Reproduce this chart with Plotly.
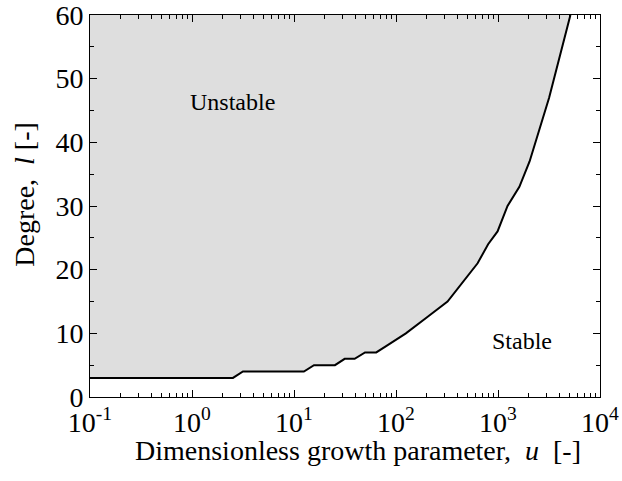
import plotly.graph_objects as go

# boundary between stable and unstable regions
u_vals = [0.1, 2.52, 3.16, 12.5, 15.7, 25.2, 31.4, 39.3, 49.7, 64, 80, 100, 125, 200, 320, 631, 800, 990, 1240, 1620, 2040, 3170, 5130]
l_vals = [3, 3, 4, 4, 5, 5, 6, 6, 7, 7, 8, 9, 10, 12.5, 15, 21, 24, 26, 30, 33, 37, 47, 60]

x_tickvals = [0.1, 1, 10, 100, 1000, 10000]
x_ticktext = ["10<sup>-1</sup>", "10<sup>0</sup>", "10<sup>1</sup>", "10<sup>2</sup>", "10<sup>3</sup>", "10<sup>4</sup>"]
y_tickvals = [0, 10, 20, 30, 40, 50, 60]
x_minor = [m * d for d in [0.1, 1, 10, 100, 1000] for m in range(2, 10)]

FONT = "Liberation Serif, Times New Roman, serif"

fig = go.Figure()
# shaded unstable region (above curve)
fig.add_trace(go.Scatter(
    x=u_vals + [u_vals[0]], y=l_vals + [60],
    fill="toself", fillcolor="#dedede", mode="lines",
    line=dict(width=0), hoverinfo="skip", showlegend=False))
fig.add_trace(go.Scatter(
    x=u_vals, y=l_vals, mode="lines",
    line=dict(color="black", width=2), showlegend=False))

fig.add_annotation(x=0.394, y=46.3, xref="x", yref="y", text="Unstable",
                   showarrow=False, font=dict(family=FONT, size=24, color="black"))
fig.add_annotation(x=3.237, y=8.8, xref="x", yref="y", text="Stable",
                   showarrow=False, font=dict(family=FONT, size=24, color="black"))

# axis titles
fig.add_annotation(x=0.525, y=-0.139, xref="paper", yref="paper",
                   text="Dimensionless growth parameter,\u2002<i>u</i>\u2002[-]",
                   showarrow=False, xanchor="center", yanchor="middle",
                   font=dict(family=FONT, size=28, color="black"))
fig.add_annotation(x=-0.129, y=0.53, xref="paper", yref="paper",
                   text="Degree,\u2002<i>l</i> [-]", textangle=-90,
                   showarrow=False, xanchor="center", yanchor="middle",
                   font=dict(family=FONT, size=28, color="black"))

fig.update_xaxes(type="log", range=[-1, 4], tickvals=x_tickvals, ticktext=x_ticktext,
                 ticks="inside", ticklen=7, tickwidth=1, tickcolor="black",
                 showline=True, linecolor="black", linewidth=1, mirror="allticks",
                 showgrid=False, zeroline=False, automargin=False, ticklabeloverflow="allow",
                 minor=dict(tickvals=x_minor, ticks="inside", ticklen=4, tickwidth=1,
                            tickcolor="black", showgrid=False),
                 tickfont=dict(family=FONT, size=28, color="black"))
fig.update_yaxes(range=[0, 60], tickvals=y_tickvals,
                 ticks="inside", ticklen=7, tickwidth=1, tickcolor="black",
                 showline=True, linecolor="black", linewidth=1, mirror="allticks",
                 showgrid=False, zeroline=False, automargin=False, ticklabeloverflow="allow",
                 minor=dict(ticks="inside", ticklen=4, dtick=5, tickwidth=1, tickcolor="black", showgrid=False),
                 tickfont=dict(family=FONT, size=28, color="black"))

fig.update_layout(width=622, height=481, plot_bgcolor="white", paper_bgcolor="white",
                  margin=dict(l=90, r=22, t=15, b=84))
fig.write_html("out.html", config={"displayModeBar": False},
               post_script="document.body.style.margin='0px';document.body.style.overflow='hidden';")
